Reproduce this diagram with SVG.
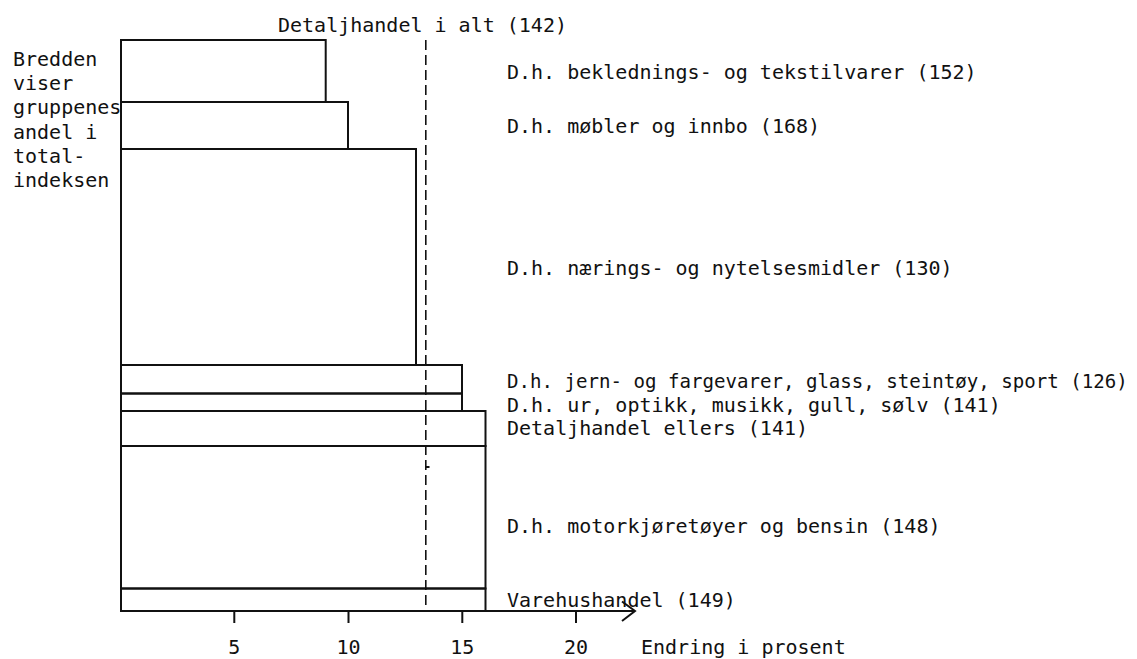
<svg xmlns="http://www.w3.org/2000/svg" width="1137" height="659" viewBox="0 0 1137 659">
<style>
text{font-family:"DejaVu Sans Mono","Liberation Mono",monospace;font-size:20px;fill:#111}
.bar{fill:none;stroke:#111;stroke-width:2}
.ax{stroke:#111;stroke-width:2;fill:none}
.dash{stroke:#111;stroke-width:1.6;stroke-dasharray:10 5;fill:none}
</style>
<rect width="1137" height="659" fill="#fff"/>
<g id="legend">
<text x="13" y="66">Bredden</text>
<text x="13" y="90">viser</text>
<text x="13" y="114">gruppenes</text>
<text x="13" y="139">andel i</text>
<text x="13" y="163">total-</text>
<text x="13" y="187">indeksen</text>
</g>
<g id="bar-beklednings"><rect class="bar" x="121" y="40" width="204.7" height="62"/><text x="507" y="79">D.h. beklednings- og tekstilvarer (152)</text></g>
<g id="bar-mobler"><rect class="bar" x="121" y="102" width="227" height="47"/><text x="507" y="133">D.h. møbler og innbo (168)</text></g>
<g id="bar-naerings"><rect class="bar" x="121" y="149" width="295" height="216"/><text x="507" y="275">D.h. nærings- og nytelsesmidler (130)</text></g>
<g id="bar-jern"><rect class="bar" x="121" y="365" width="341" height="28.5"/><text x="507" y="388" style="font-size:19.1px">D.h. jern- og fargevarer, glass, steintøy, sport (126)</text></g>
<g id="bar-ur"><rect class="bar" x="121" y="393.5" width="341" height="17.5"/><text x="507" y="412">D.h. ur, optikk, musikk, gull, sølv (141)</text></g>
<g id="bar-ellers"><rect class="bar" x="121" y="411" width="364.5" height="35"/><text x="507" y="435">Detaljhandel ellers (141)</text></g>
<g id="bar-motor"><rect class="bar" x="121" y="446" width="364.5" height="142.5"/><text x="507" y="533">D.h. motorkjøretøyer og bensin (148)</text></g>
<g id="bar-varehus"><rect class="bar" x="121" y="588.5" width="364.5" height="22.5"/><text x="507" y="607">Varehushandel (149)</text></g>
<g id="total">
<text x="278" y="32">Detaljhandel i alt (142)</text>
<path class="dash" d="M425.8 40V611"/>
<path class="ax" stroke-width="1.2" d="M425.8 467H429.5"/>
</g>
<g id="connectors">
<path class="ax" d="M121 611H635M622 601.5L635 611L622 621"/>
<path class="ax" d="M234.3 611V623M348.5 611V623M462.3 611V623M576 611V623"/>
</g>
<g id="axis-labels">
<text x="234.3" y="654" text-anchor="middle">5</text>
<text x="348.5" y="654" text-anchor="middle">10</text>
<text x="462.3" y="654" text-anchor="middle">15</text>
<text x="576" y="654" text-anchor="middle">20</text>
<text x="641" y="654">Endring i prosent</text>
</g>
</svg>
